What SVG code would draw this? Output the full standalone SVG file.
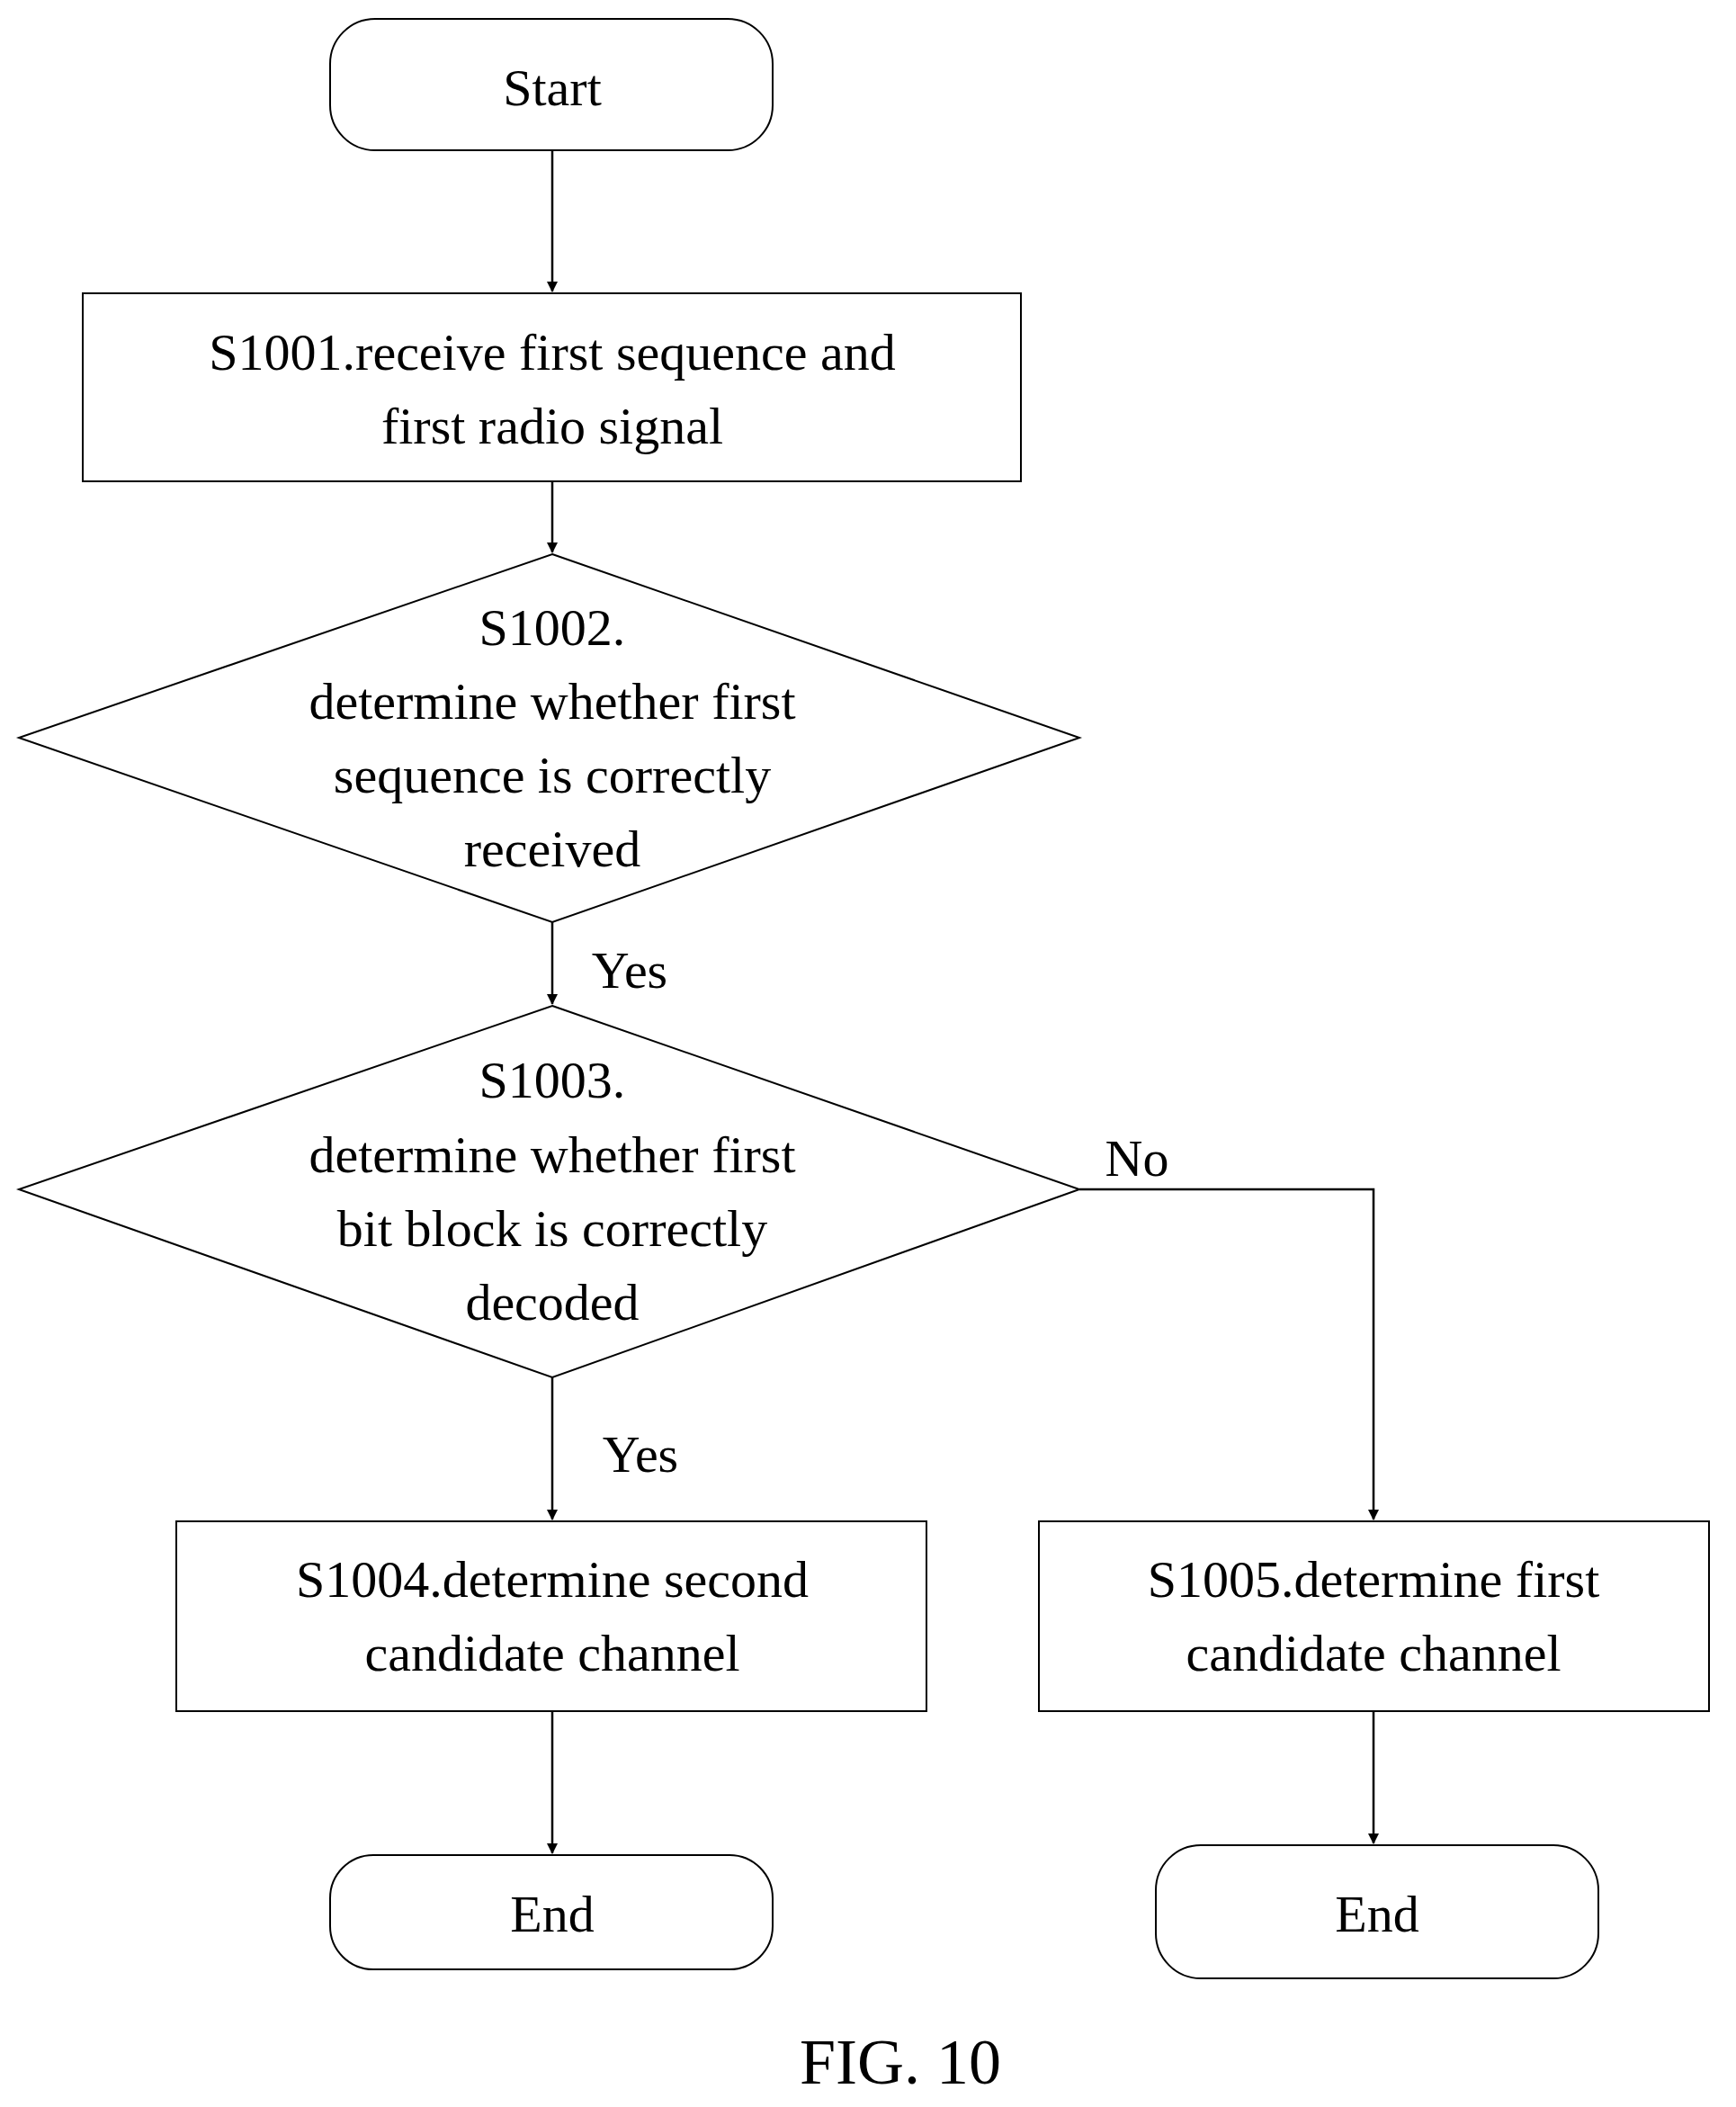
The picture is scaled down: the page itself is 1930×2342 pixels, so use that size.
<svg xmlns="http://www.w3.org/2000/svg" width="1930" height="2342" viewBox="0 0 1930 2342">
<defs><marker id="a" markerWidth="12" markerHeight="18" refX="11" refY="6" orient="auto" markerUnits="userSpaceOnUse" viewBox="0 0 12 12"><path d="M0,0 L12,6 L0,12 z" fill="#000"/></marker></defs>
<style>.s{fill:#fff;stroke:#000;stroke-width:2}.t{font-family:"Liberation Serif",serif;font-size:58px;text-anchor:middle;fill:#000}.c{fill:none;stroke:#000;stroke-width:2.5;marker-end:url(#a)}</style>
<rect width="1930" height="2342" fill="#fff"/>
<g id="start"><rect class="s" x="367" y="21" width="492" height="146" rx="50"/><text class="t" x="614" y="117">Start</text></g>
<g id="s1001"><rect class="s" x="92" y="326" width="1043" height="209"/><text class="t" x="614" y="411">S1001.receive first sequence and</text><text class="t" x="614" y="493">first radio signal</text></g>
<g id="s1002"><polygon class="s" points="614,616 1200,820 614,1025 21,820"/><text class="t" x="614" y="717">S1002.</text><text class="t" x="614" y="799">determine whether first</text><text class="t" x="614" y="881">sequence is correctly</text><text class="t" x="614" y="963">received</text></g>
<g id="s1003"><polygon class="s" points="614,1118 1200,1322 614,1531 21,1322"/><text class="t" x="614" y="1220">S1003.</text><text class="t" x="614" y="1303">determine whether first</text><text class="t" x="614" y="1385">bit block is correctly</text><text class="t" x="614" y="1467">decoded</text></g>
<g id="s1004"><rect class="s" x="196" y="1691" width="834" height="211"/><text class="t" x="614" y="1775">S1004.determine second</text><text class="t" x="614" y="1857">candidate channel</text></g>
<g id="s1005"><rect class="s" x="1155" y="1691" width="745" height="211"/><text class="t" x="1527" y="1775">S1005.determine first</text><text class="t" x="1527" y="1857">candidate channel</text></g>
<g id="end1"><rect class="s" x="367" y="2062" width="492" height="127" rx="48"/><text class="t" x="614" y="2147">End</text></g>
<g id="end2"><rect class="s" x="1285" y="2051" width="492" height="148" rx="50"/><text class="t" x="1531" y="2147">End</text></g>
<g id="connectors">
<line class="c" x1="614" y1="167" x2="614" y2="324"/>
<line class="c" x1="614" y1="535" x2="614" y2="614"/>
<line class="c" x1="614" y1="1025" x2="614" y2="1116"/>
<line class="c" x1="614" y1="1531" x2="614" y2="1689"/>
<polyline class="c" points="1200,1322 1527,1322 1527,1689"/>
<line class="c" x1="614" y1="1902" x2="614" y2="2060"/>
<line class="c" x1="1527" y1="1902" x2="1527" y2="2049"/>
</g>
<text class="t" x="700" y="1098">Yes</text>
<text class="t" x="1264" y="1307">No</text>
<text class="t" x="712" y="1636">Yes</text>
<text class="t" x="1001" y="2316" style="font-size:72px">FIG. 10</text>
</svg>
